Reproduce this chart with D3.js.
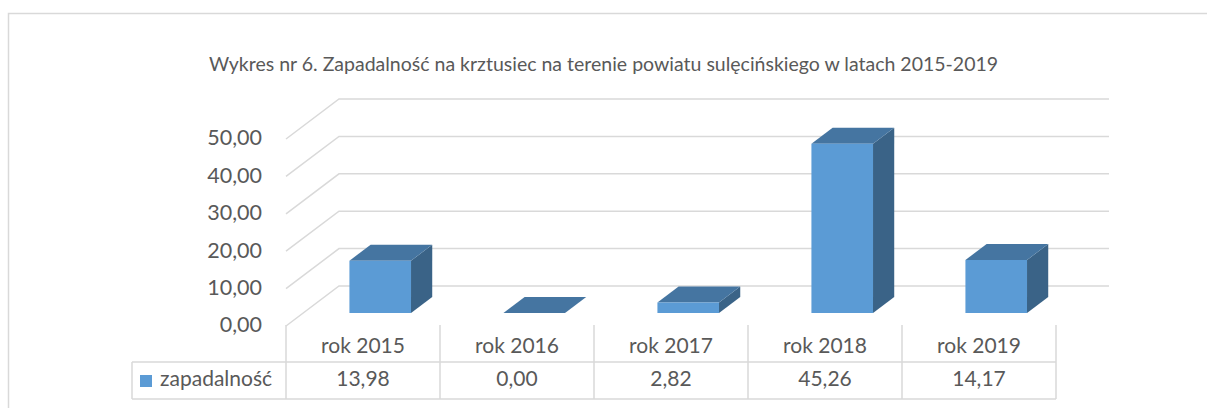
<!DOCTYPE html>
<html lang="pl">
<head>
<meta charset="utf-8">
<title>Zapadalność na krztusiec</title>
<script src="https://cdn.jsdelivr.net/npm/d3@7"></script>
<style>
  body, html { margin:0; padding:0; background:#fff; }
  svg { display:block; font-family: Lato, "Open Sans", sans-serif; }
  text { fill:#595959; }
</style>
</head>
<body>
<svg id="chart" width="1207" height="408"></svg>
<script>
var title = 'Wykres nr 6. Zapadalność na krztusiec na terenie powiatu sulęcińskiego w latach 2015-2019';
var years = ['rok 2015', 'rok 2016', 'rok 2017', 'rok 2018', 'rok 2019'];
var values = [13.98, 0.00, 2.82, 45.26, 14.17];
var yTicks = [0, 10, 20, 30, 40, 50];
var seriesName = 'zapadalność';

var pl = d3.formatLocale({ decimal: ',', thousands: ' ', grouping: [3], currency: ['', ' zł'] });
var fmt = pl.format('.2f');

var svg = d3.select('#chart');

// outer chart frame (right/bottom edges fall outside the window)
svg.append('rect')
  .attr('x', 8.5).attr('y', 13.5).attr('width', 1300).attr('height', 500)
  .attr('fill', 'none').attr('stroke', '#d9d9d9').attr('stroke-width', 1.5);

svg.append('text')
  .attr('x', 603.5).attr('y', 66)
  .attr('text-anchor', 'middle').attr('dominant-baseline', 'middle')
  .style('font-size', '19.5px')
  .text(title);

// front plane of the 3d box; the back wall is shifted by (depthX, -depthY)
var floorY = 326, depthX = 53, depthY = 40;
var x = d3.scaleBand().domain(years).range([286, 1056]);
var h = d3.scaleLinear().domain([0, 50]).range([0, 187]);

function proj(px, v, d) {
  return [px + depthX * d, floorY - depthY * d - h(v)];
}
var poly = d3.line().curve(d3.curveLinearClosed);

// gridlines: side wall diagonal + back wall line
var x0 = x.range()[0], x1 = x.range()[1];
svg.append('g').selectAll('path')
  .data(yTicks)
  .enter().append('path')
  .attr('d', function(t) { return d3.line()([proj(x0, t, 0), proj(x0, t, 1), proj(x1, t, 1)]); })
  .attr('fill', 'none').attr('stroke', '#d9d9d9').attr('stroke-width', 1.5);

svg.append('g').selectAll('text')
  .data(yTicks)
  .enter().append('text')
  .attr('x', 262).attr('y', function(t) { return floorY - h(t) + 1; })
  .attr('text-anchor', 'end').attr('dominant-baseline', 'middle')
  .style('font-size', '21.5px')
  .text(function(t) { return fmt(t); });

// bars
var d0 = 0.325, d1 = 0.725, bw = 0.4;
var bars = svg.append('g').selectAll('g')
  .data(values)
  .enter().append('g');

function edges(i) {
  var c = x(years[i]) + x.bandwidth() / 2;
  return [c - x.bandwidth() * bw / 2, c + x.bandwidth() * bw / 2];
}

bars.append('path')
  .attr('d', function(v, i) {
    var e = edges(i);
    return poly([proj(e[1], 0, d0), proj(e[1], 0, d1), proj(e[1], v, d1), proj(e[1], v, d0)]);
  })
  .attr('fill', '#3a6387');
bars.append('path')
  .attr('d', function(v, i) {
    var e = edges(i);
    return poly([proj(e[0], v, d0), proj(e[1], v, d0), proj(e[1], v, d1), proj(e[0], v, d1)]);
  })
  .attr('fill', '#4575a1');
bars.append('path')
  .attr('d', function(v, i) {
    var e = edges(i);
    return poly([proj(e[0], 0, d0), proj(e[1], 0, d0), proj(e[1], v, d0), proj(e[0], v, d0)]);
  })
  .attr('fill', '#5b9bd5');

// data table under the chart
var rowTop = 326, rowMid = 362, rowBot = 399, tableLeft = 132;
var tbl = svg.append('g').attr('stroke', '#d9d9d9').attr('stroke-width', 1.5);
var bounds = years.map(function(y) { return x(y); }).concat([x1]);
tbl.selectAll('line.v')
  .data(bounds)
  .enter().append('line')
  .attr('x1', function(b) { return b; }).attr('x2', function(b) { return b; })
  .attr('y1', rowTop - 1).attr('y2', rowBot);
tbl.append('line').attr('x1', tableLeft).attr('x2', tableLeft).attr('y1', rowMid).attr('y2', rowBot);
tbl.append('line').attr('x1', tableLeft).attr('x2', x1).attr('y1', rowMid).attr('y2', rowMid);
tbl.append('line').attr('x1', tableLeft).attr('x2', x1).attr('y1', rowBot).attr('y2', rowBot);

svg.append('g').selectAll('text')
  .data(years)
  .enter().append('text')
  .attr('x', function(y) { return x(y) + x.bandwidth() / 2; }).attr('y', 348)
  .attr('text-anchor', 'middle').attr('dominant-baseline', 'middle')
  .style('font-size', '21px')
  .text(function(y) { return y; });

svg.append('g').selectAll('text')
  .data(values)
  .enter().append('text')
  .attr('x', function(v, i) { return x(years[i]) + x.bandwidth() / 2; }).attr('y', 381)
  .attr('text-anchor', 'middle').attr('dominant-baseline', 'middle')
  .style('font-size', '21px')
  .text(function(v) { return fmt(v); });

svg.append('rect').attr('x', 140).attr('y', 375).attr('width', 12).attr('height', 12).attr('fill', '#5b9bd5');
svg.append('text')
  .attr('x', 160).attr('y', 381)
  .attr('dominant-baseline', 'middle')
  .style('font-size', '21px')
  .text(seriesName);
</script>
</body>
</html>
